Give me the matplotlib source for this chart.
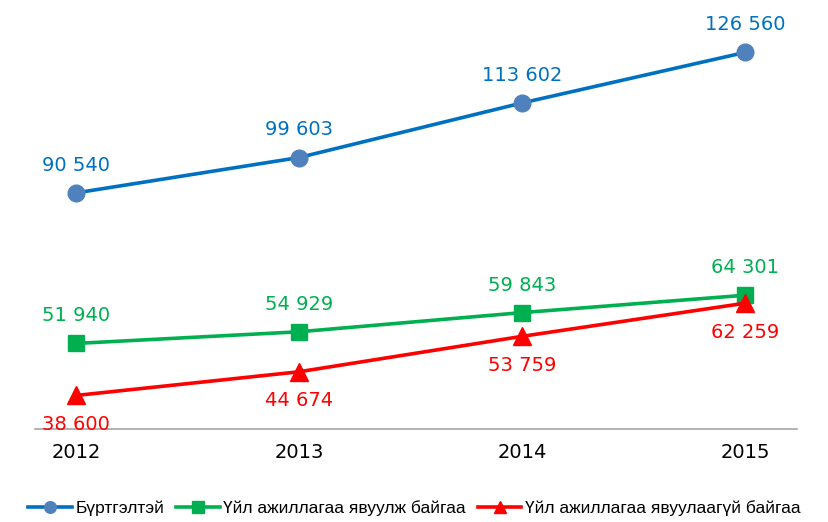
import matplotlib.pyplot as plt

plt.rcParams['font.family'] = ['DejaVu Sans']

years = ['2012', '2013', '2014', '2015']
registered = [90540, 99603, 113602, 126560]
active = [51940, 54929, 59843, 64301]
inactive = [38600, 44674, 53759, 62259]

series_names = ['Бүртгэлтэй', 'Үйл ажиллагаа явуулж байгаа', 'Үйл ажиллагаа явуулаагүй байгаа']


def fmt(v):
    return f"{v:,}".replace(',', ' ')


fig = plt.figure(figsize=(8.29, 5.22), dpi=100)
ax = fig.add_axes([35 / 829, 93 / 522, 762 / 829, 429 / 522])

x = range(len(years))
ax.plot(x, registered, color='#0070C0', lw=2.6, marker='o', ms=12,
        mfc='#4F81BD', mec='#4F81BD', label=series_names[0])
ax.plot(x, active, color='#00B050', lw=2.6, marker='s', ms=12,
        mfc='#00B050', mec='#00B050', label=series_names[1])
ax.plot(x, inactive, color='#FF0000', lw=2.6, marker='^', ms=13,
        mfc='#FF0000', mec='#FF0000', label=series_names[2])

# value labels: blue and green above, red below
for i, v in enumerate(registered):
    ax.annotate(fmt(v), (i, v), xytext=(0, 13), textcoords='offset points',
                ha='center', va='bottom', fontsize=14, color='#0070C0')
for i, v in enumerate(active):
    ax.annotate(fmt(v), (i, v), xytext=(0, 13), textcoords='offset points',
                ha='center', va='bottom', fontsize=14, color='#00B050')
for i, v in enumerate(inactive):
    ax.annotate(fmt(v), (i, v), xytext=(0, -14), textcoords='offset points',
                ha='center', va='top', fontsize=14, color='#FF0000')

ax.set_xlim(-0.184, 3.233)
ax.set_ylim(30000, 140000)
ax.set_xticks(list(x))
ax.set_xticklabels(years, fontsize=14)
ax.tick_params(axis='x', length=0, pad=10)
ax.set_yticks([])
for side in ['left', 'right', 'top']:
    ax.spines[side].set_visible(False)
ax.spines['bottom'].set_color('#A6A6A6')
ax.spines['bottom'].set_linewidth(1.2)

fig.legend(loc='center', bbox_to_anchor=(0.5, 0.026), ncol=3, frameon=False,
           prop={'family': 'Liberation Sans', 'size': 12.5},
           handlelength=2.5, columnspacing=0.7, handletextpad=0.2,
           markerscale=0.7, borderpad=0.1)

fig.savefig('out.png', dpi=100)
